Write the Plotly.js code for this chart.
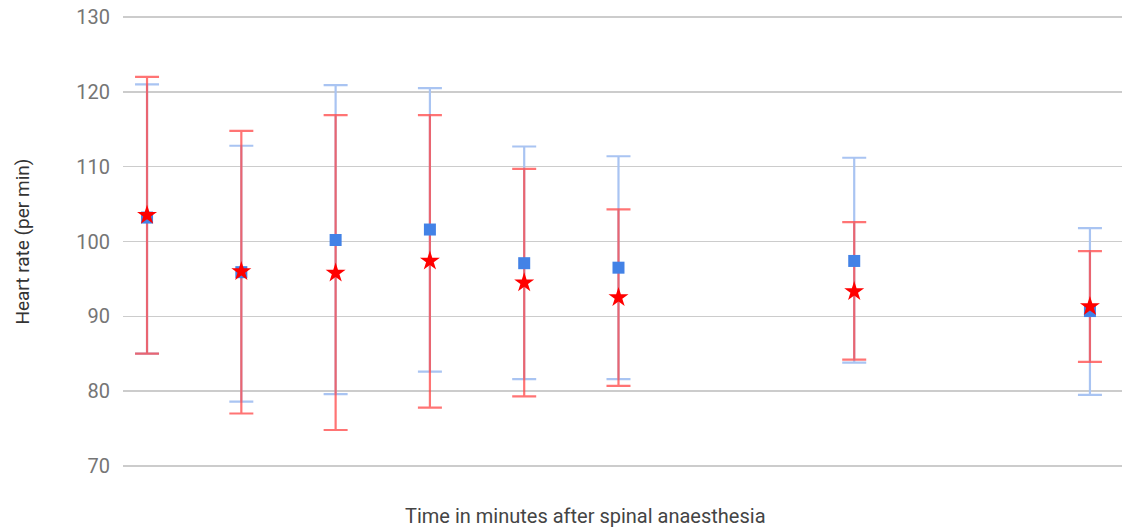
<!DOCTYPE html>
<html>
<head>
<meta charset="utf-8">
<script src="https://cdn.plot.ly/plotly-3.0.1.min.js"></script>
<style>html,body{margin:0;padding:0;background:#fff;}#chart{width:1122px;height:529px;}</style>
</head>
<body>
<div id="chart"></div>
<script>
// Time points (minutes after spinal anaesthesia; positions as spaced in the chart)
const timePoints = [0, 2, 4, 6, 8, 10, 15, 20];

// Group 1 (blue squares): mean and upper/lower SD limits
const blueMean  = [103.2, 95.9, 100.2, 101.6, 97.1, 96.5, 97.4, 90.7];
const blueUpper = [121.0, 112.8, 120.9, 120.5, 112.7, 111.4, 111.2, 101.8];
const blueLower = [85.0, 78.6, 79.6, 82.6, 81.6, 81.6, 83.8, 79.5];

// Group 2 (red stars): mean and upper/lower SD limits
const redMean  = [103.5, 96.0, 95.8, 97.4, 94.5, 92.5, 93.3, 91.3];
const redUpper = [122.0, 114.8, 116.9, 116.9, 109.7, 104.3, 102.6, 98.7];
const redLower = [85.0, 77.0, 74.8, 77.8, 79.3, 80.7, 84.2, 83.9];

const yTicks = [70, 80, 90, 100, 110, 120, 130];

const plus  = (u, m) => u.map((v, i) => +(v - m[i]).toFixed(2));
const minus = (l, m) => l.map((v, i) => +(m[i] - v).toFixed(2));

const traces = [
  {
    x: timePoints, y: blueMean, type: 'scatter', mode: 'markers',
    marker: {size: 1, color: 'rgba(0,0,0,0)'},
    error_y: {type: 'data', symmetric: false, array: plus(blueUpper, blueMean),
      arrayminus: minus(blueLower, blueMean), color: '#a9c4f2', thickness: 2.2, width: 12},
    hoverinfo: 'skip', showlegend: false
  },
  {
    x: timePoints, y: redMean, type: 'scatter', mode: 'markers',
    marker: {size: 1, color: 'rgba(0,0,0,0)'},
    error_y: {type: 'data', symmetric: false, array: plus(redUpper, redMean),
      arrayminus: minus(redLower, redMean), color: 'rgba(255,70,70,0.75)', thickness: 2.2, width: 12},
    hoverinfo: 'skip', showlegend: false
  },
  {
    x: timePoints, y: blueMean, type: 'scatter', mode: 'markers', name: 'Group 1',
    marker: {symbol: 'square', size: 12, color: '#4382e6'}, showlegend: false
  },
  {
    x: timePoints, y: redMean, type: 'scatter', mode: 'markers', name: 'Group 2',
    marker: {symbol: 'star', size: 15, color: '#ff0000'}, showlegend: false
  }
];

const layout = {
  width: 1122, height: 529,
  margin: {l: 123, r: 0, t: 16, b: 62},
  paper_bgcolor: '#fff', plot_bgcolor: '#fff',
  font: {family: 'Roboto, "Open Sans", sans-serif'},
  xaxis: {
    range: [-0.51, 20.68], showgrid: false, zeroline: false,
    showticklabels: false, showline: false, ticks: ''
  },
  yaxis: {
    range: [69.85, 130.15], tickvals: yTicks, ticktext: yTicks.map(String),
    showgrid: true, gridcolor: '#cccccc', gridwidth: 1.5, zeroline: false,
    showline: false, ticks: '', ticklabelstandoff: 12,
    tickfont: {family: 'Roboto, sans-serif', size: 20, color: '#757575'}
  },
  annotations: [
    {text: 'Heart rate (per min)', xref: 'paper', yref: 'paper',
     x: -0.101, y: 0.5, xanchor: 'center', yanchor: 'middle', textangle: -90,
     showarrow: false, font: {family: 'Roboto, sans-serif', size: 19, color: '#333'}},
    {text: 'Time in minutes after spinal anaesthesia', xref: 'paper', yref: 'paper',
     x: 0.463, y: -0.108, xanchor: 'center', yanchor: 'middle',
     showarrow: false, font: {family: 'Roboto, sans-serif', size: 20, color: '#444'}}
  ]
};

Plotly.newPlot('chart', traces, layout, {displayModeBar: false, staticPlot: true});
</script>
</body>
</html>
